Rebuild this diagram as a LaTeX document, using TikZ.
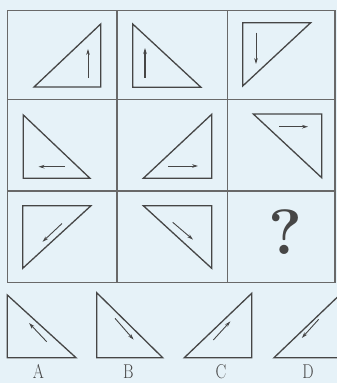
\documentclass[tikz,border=0pt]{standalone}
\usetikzlibrary{arrows.meta}
\definecolor{bg}{RGB}{230,242,248}
\definecolor{ink}{RGB}{70,70,70}
\definecolor{gridc}{RGB}{105,105,105}
\begin{document}
\begin{tikzpicture}[x=1pt,y=-1pt,
  tri/.style={draw=ink,line width=1.3pt,line join=miter},
  gridline/.style={draw=gridc,line width=1.4pt},
  arr/.style={draw=ink,line width=0.9pt,-{Stealth[length=6pt,width=3.6pt]}},
  lbl/.style={text=ink,inner sep=0pt,anchor=base,font=\fontsize{20}{20}\selectfont}]
\fill[bg] (0,0) rectangle (337,383);
\useasboundingbox (0,0) rectangle (337,383);
\begin{scope}
\clip (0,0) rectangle (337,383);
% grid
\draw[gridline] (7.5,10.5) rectangle (335,282.5);
\draw[gridline] (7.5,99.5) -- (335,99.5);
\draw[gridline] (7.5,191) -- (335,191);
\draw[gridline] (117,10.5) -- (117,282.5);
\draw[gridline] (227.5,10.5) -- (227.5,282.5);
% row 1
\draw[tri] (34,87) -- (100.7,24) -- (100.7,87) -- cycle;
\draw[arr] (88,78) -- (88,49);
\draw[tri] (132.7,24) -- (132.7,87.3) -- (201,87.3) -- cycle;
\draw[arr,line width=1.5pt] (145,77.5) -- (145,48);
\draw[tri] (242.7,22.7) -- (310.7,22.7) -- (242.7,86) -- cycle;
\draw[arr] (256,32.7) -- (256,64);
% row 2
\draw[tri] (23.3,115) -- (23.3,178.3) -- (90,178.3) -- cycle;
\draw[arr] (65,166.7) -- (38.5,166.7);
\draw[tri] (143.3,178.3) -- (211.7,114.3) -- (211.7,178.3) -- cycle;
\draw[arr] (168.3,166) -- (198,166);
\draw[tri] (253.3,114) -- (321.7,114) -- (321.7,177.7) -- cycle;
\draw[arr] (279.3,126.7) -- (308,126.7);
% row 3
\draw[tri] (22.7,205.7) -- (91,205.7) -- (22.7,268.3) -- cycle;
\draw[arr] (62,223.5) -- (42.5,241.8);
\draw[tri] (143.3,205.7) -- (211.7,205.7) -- (211.7,268.3) -- cycle;
\draw[arr] (172.7,222.3) -- (193,239.6);
\node[text=ink,inner sep=0pt,font=\fontsize{64}{64}\selectfont\bfseries] (q) at (285.5,232.5) {?};
% options
\draw[tri] (7.3,295) -- (7.3,357.7) -- (76,357.7) -- cycle;
\draw[arr] (46.7,341.7) -- (29,323);
\draw[tri] (96.7,292.7) -- (96.7,357.7) -- (162.7,357.7) -- cycle;
\draw[arr] (115,318.3) -- (133.6,339.6);
\draw[tri] (184.3,357.7) -- (251.7,293.3) -- (251.7,357.7) -- cycle;
\draw[arr] (213.3,340) -- (230.3,321.4);
\draw[tri] (274,357.7) -- (342,292.7) -- (342,357.7) -- cycle;
\draw[arr] (318.7,319.3) -- (301.8,338);
\node[lbl] (la) at (38.3,378.5) {\scalebox{0.8}[1]{A}};
\node[lbl] (lb) at (128.3,378.5) {\scalebox{0.8}[1]{B}};
\node[lbl] (lc) at (221,378.5) {\scalebox{0.8}[1]{C}};
\node[lbl] (ld) at (308,378.5) {\scalebox{0.8}[1]{D}};
\end{scope}
\end{tikzpicture}
\end{document}
